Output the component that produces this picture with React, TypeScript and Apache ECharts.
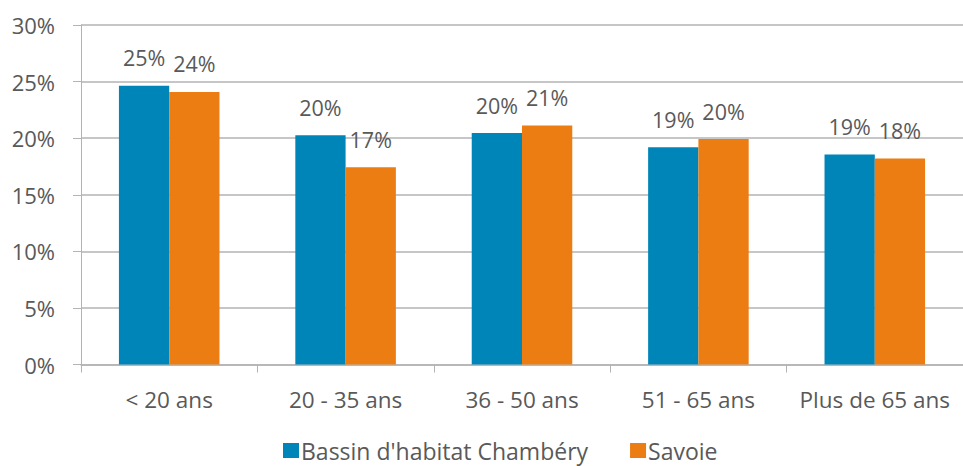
import React, { useEffect, useRef } from "react";
import * as echarts from "echarts";

const categories = ["< 20 ans", "20 - 35 ans", "36 - 50 ans", "51 - 65 ans", "Plus de 65 ans"];
const seriesNames = ["Bassin d'habitat Chambéry", "Savoie"];
const chamberyValues = [24.63, 20.25, 20.45, 19.19, 18.55];
const savoieValues = [24.08, 17.44, 21.13, 19.92, 18.21];
const yTicks = { min: 0, max: 30, interval: 5 };

const TEXT = "#595959";
const GRID = "#b3b3b3";
const FONT = "Open Sans";

export default function App() {
  const ref = useRef<HTMLDivElement>(null);
  useEffect(() => {
    if (!ref.current) return;
    const chart = echarts.init(ref.current, undefined, { renderer: "svg" });
    const label = {
      show: true,
      position: "top",
      distance: 17,
      color: TEXT,
      fontFamily: FONT,
      fontSize: 21.5,
      formatter: (p: any) => Math.round(p.value) + "%",
    };
    chart.setOption({
      animation: false,
      backgroundColor: "#ffffff",
      textStyle: { fontFamily: FONT },
      grid: { left: 81, right: -6, top: 25, bottom: 101.5, containLabel: false },
      legend: {
        bottom: -1,
        left: 278,
        itemWidth: 16,
        itemHeight: 15,
        itemGap: 42,
        icon: "rect",
        textStyle: { color: TEXT, fontSize: 23, fontFamily: FONT, padding: [0, 0, 0, -3] },
        data: seriesNames,
      },
      xAxis: {
        type: "category",
        data: categories,
        axisLine: { show: true, lineStyle: { color: GRID, width: 1.5 } },
        axisTick: { show: true, length: 8, lineStyle: { color: GRID } },
        axisLabel: { color: TEXT, fontSize: 22.5, fontFamily: FONT, margin: 23, interval: 0 },
      },
      yAxis: {
        type: "value",
        min: yTicks.min,
        max: yTicks.max,
        interval: yTicks.interval,
        axisLine: { show: true, lineStyle: { color: GRID } },
        axisTick: { show: true, length: 8, lineStyle: { color: GRID } },
        splitLine: { show: true, lineStyle: { color: GRID, width: 1.5 } },
        axisLabel: {
          color: TEXT,
          fontSize: 22,
          fontFamily: FONT,
          margin: 26,
          formatter: (v: number) => v + "%",
        },
      },
      series: [
        {
          name: seriesNames[0],
          type: "bar",
          data: chamberyValues,
          itemStyle: { color: "#0085B8" },
          barWidth: "28.5%",
          barGap: "0%",
          label,
        },
        {
          name: seriesNames[1],
          type: "bar",
          data: savoieValues,
          itemStyle: { color: "#EC7D13" },
          barWidth: "28.5%",
          barGap: "0%",
          label,
        },
      ],
    });
    return () => chart.dispose();
  }, []);
  return (
    <div style={{ position: "fixed", left: 0, top: 0, width: 963, height: 466, overflow: "hidden", background: "#fff" }}>
      <div ref={ref} style={{ width: 963, height: 466 }} />
    </div>
  );
}
